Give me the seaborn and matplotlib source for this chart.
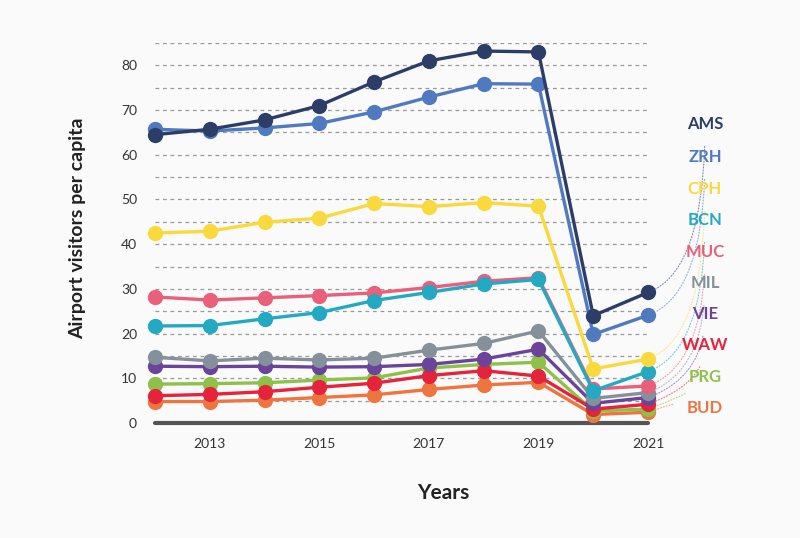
import pandas as pd
import seaborn as sns
import matplotlib.pyplot as plt

# ====== data ======
years = [2012, 2013, 2014, 2015, 2016, 2017, 2018, 2019, 2020, 2021]
airports = ["AMS", "ZRH", "CPH", "BCN", "MUC", "MIL", "VIE", "WAW", "PRG", "BUD"]
ams = [64.5, 65.7, 67.8, 71.0, 76.3, 81.0, 83.2, 83.0, 24.0, 29.2]
zrh = [65.7, 65.3, 66.0, 67.0, 69.6, 72.9, 75.9, 75.8, 19.8, 24.1]
cph = [42.5, 42.9, 44.9, 45.8, 49.1, 48.4, 49.3, 48.5, 12.1, 14.3]
bcn = [21.7, 21.8, 23.3, 24.7, 27.4, 29.2, 31.1, 32.1, 7.2, 11.5]
muc = [28.2, 27.5, 28.0, 28.5, 29.1, 30.3, 31.7, 32.5, 7.6, 8.3]
mil = [14.7, 13.9, 14.5, 14.1, 14.5, 16.3, 17.8, 20.6, 5.5, 6.8]
vie = [12.7, 12.6, 12.7, 12.5, 12.6, 13.1, 14.3, 16.5, 4.4, 5.7]
waw = [6.1, 6.4, 7.0, 8.0, 8.9, 10.6, 11.7, 10.5, 3.1, 4.2]
prg = [8.7, 8.8, 9.0, 9.6, 10.1, 12.3, 13.1, 13.6, 2.7, 3.1]
bud = [4.8, 4.8, 5.1, 5.7, 6.3, 7.5, 8.5, 9.1, 1.9, 2.4]
series = [ams, zrh, cph, bcn, muc, mil, vie, waw, prg, bud]

colors = ["#2c3e67", "#4f7ac0", "#f9d93e", "#24a9c3", "#e8607a",
          "#84919b", "#6b449a", "#e5233a", "#8dc14a", "#ee7440"]
palette = dict(zip(airports, colors))
label_y = [124, 157, 189, 220, 252, 283, 314, 345, 377, 408]  # pixel rows of the side labels

# ====== long dataframe ======
rows = []
for name, vals in zip(airports, series):
    for yr, v in zip(years, vals):
        rows.append({"year": yr, "airport": name, "visitors": v})
df = pd.DataFrame(rows)

sns.set_style("white")
plt.rcParams['font.family'] = ['Lato', 'DejaVu Sans']

fig = plt.figure(figsize=(8, 5.38), dpi=100, facecolor="#fafafa")
ax = fig.add_axes([155/800, 1-423/538, (648-155)/800, (423-43)/538])
ax.set_facecolor("#fafafa")

# grid lines every 5
for g in range(5, 90, 5):
    ax.axhline(g, color="#999999", lw=0.9, ls=(0, (3, 3)), zorder=0)
ax.axhline(0, color="#555555", lw=3, zorder=1, clip_on=False)

# draw in reverse so AMS ends on top
for name in airports[::-1]:
    sns.lineplot(data=df[df.airport == name], x="year", y="visitors", color=palette[name],
                 marker="o", markersize=11, markeredgewidth=0, lw=2.4, ax=ax,
                 clip_on=False, zorder=3)

ax.set_xlim(2012, 2021)
ax.set_ylim(0, 85)
ax.set_yticks(range(0, 90, 10))
ax.set_xticks([2013, 2015, 2017, 2019, 2021])
ax.tick_params(axis="both", length=0, labelsize=10, labelcolor="#333333")
ax.tick_params(axis="y", pad=13)
ax.tick_params(axis="x", pad=11)
for s in ax.spines.values():
    s.set_visible(False)

ax.set_xlabel("Years", fontsize=15, fontweight="bold", color="#222222")
ax.xaxis.set_label_coords((443-155)/493, -(483-423)/380)
ax.set_ylabel("Airport visitors per capita", fontsize=14, fontweight="bold", color="#222222")
ax.yaxis.set_label_coords(-(155-86)/493, (423-228)/380)

# side labels with dotted leaders
for name, vals, py in zip(airports, series, label_y):
    fy = 1 - py/538
    ax.annotate(name, xy=(2021, vals[-1]), xycoords="data",
                xytext=(705/800, fy), textcoords="figure fraction",
                ha="center", va="center", fontsize=12, fontweight="bold",
                color=palette[name],
                arrowprops=dict(arrowstyle="-", ls=":", lw=0.8, color=palette[name],
                                alpha=0.6, shrinkA=8, shrinkB=6,
                                connectionstyle="angle3,angleA=90,angleB=20"))

plt.savefig("out.png", dpi=100, facecolor=fig.get_facecolor())
